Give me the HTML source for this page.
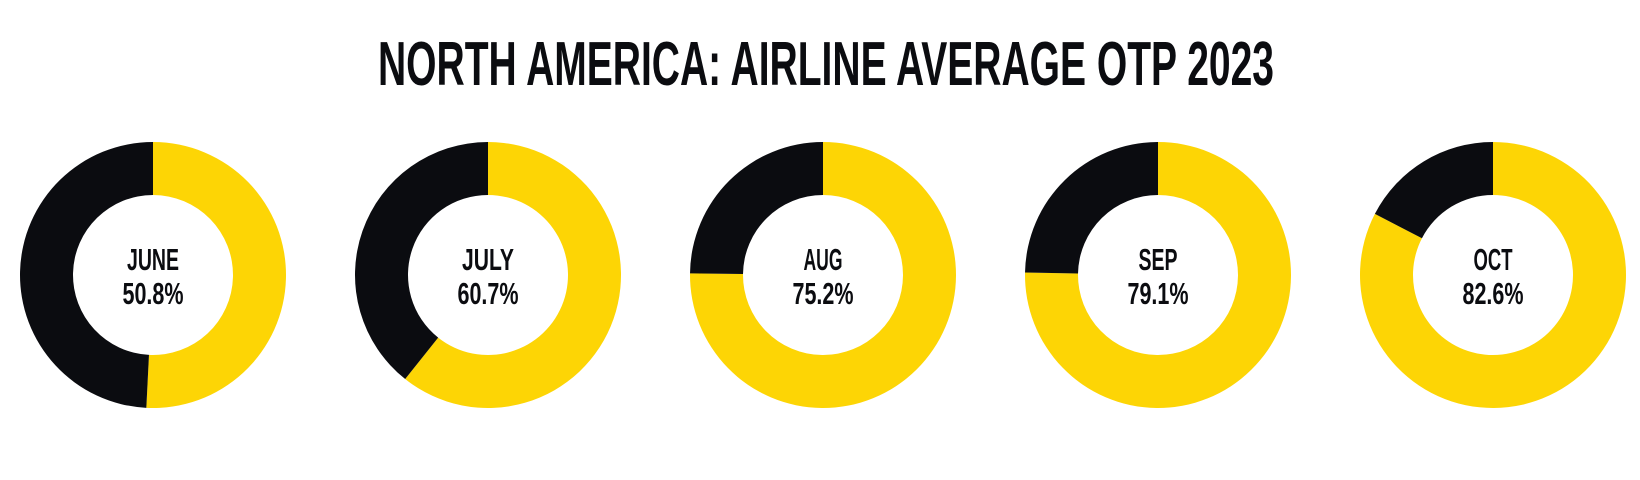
<!DOCTYPE html>
<html><head><meta charset="utf-8"><style>
html,body{margin:0;padding:0;background:#fff;}
svg{display:block;}
text{font-family:"Liberation Sans Narrow","Liberation Sans",sans-serif;font-weight:bold;fill:#0b0c10;}
</style></head><body>
<svg width="1640" height="480" viewBox="0 0 1640 480" xmlns="http://www.w3.org/2000/svg">
<text x="378" y="85" font-size="62" textLength="896" lengthAdjust="spacingAndGlyphs">NORTH AMERICA: AIRLINE AVERAGE OTP 2023</text>
<g id="d"></g>
<script>
var data=[["JUNE",50.8,153,50.8],["JULY",60.7,488,60.7],["AUG",75.2,823,75.2],["SEP",79.1,1158,75.3],["OCT",82.6,1493,82.6]];
var g=document.getElementById('d'),ns="http://www.w3.org/2000/svg",cy=275,R=133,r=80;
function pt(cx,rad,f){var a=f*2*Math.PI;return [cx+rad*Math.sin(a),cy-rad*Math.cos(a)];}
function arc(cx,f0,f1,col){var p1=pt(cx,R,f0),p2=pt(cx,R,f1),p3=pt(cx,r,f1),p4=pt(cx,r,f0),l=(f1-f0)>0.5?1:0;
var p=document.createElementNS(ns,'path');p.setAttribute('d','M'+p1+' A'+R+','+R+' 0 '+l+' 1 '+p2+' L'+p3+' A'+r+','+r+' 0 '+l+' 0 '+p4+' Z');p.setAttribute('fill',col);g.appendChild(p);}
data.forEach(function(d){var f=d[3]/100;arc(d[2],0,f,'#fdd505');arc(d[2],f,1,'#0b0c10');
var t=document.createElementNS(ns,'text');t.setAttribute('x',d[2]);t.setAttribute('y',270);t.setAttribute('text-anchor','middle');t.setAttribute('font-size','31');t.setAttribute('textLength',d[0].length*13);t.setAttribute('lengthAdjust','spacingAndGlyphs');t.textContent=d[0];g.appendChild(t);
var u=document.createElementNS(ns,'text');u.setAttribute('x',d[2]);u.setAttribute('y',304);u.setAttribute('text-anchor','middle');u.setAttribute('font-size','31');u.setAttribute('textLength',61);u.setAttribute('lengthAdjust','spacingAndGlyphs');u.textContent=d[1].toFixed(1)+'%';g.appendChild(u);});
</script>
</svg>
</body></html>
